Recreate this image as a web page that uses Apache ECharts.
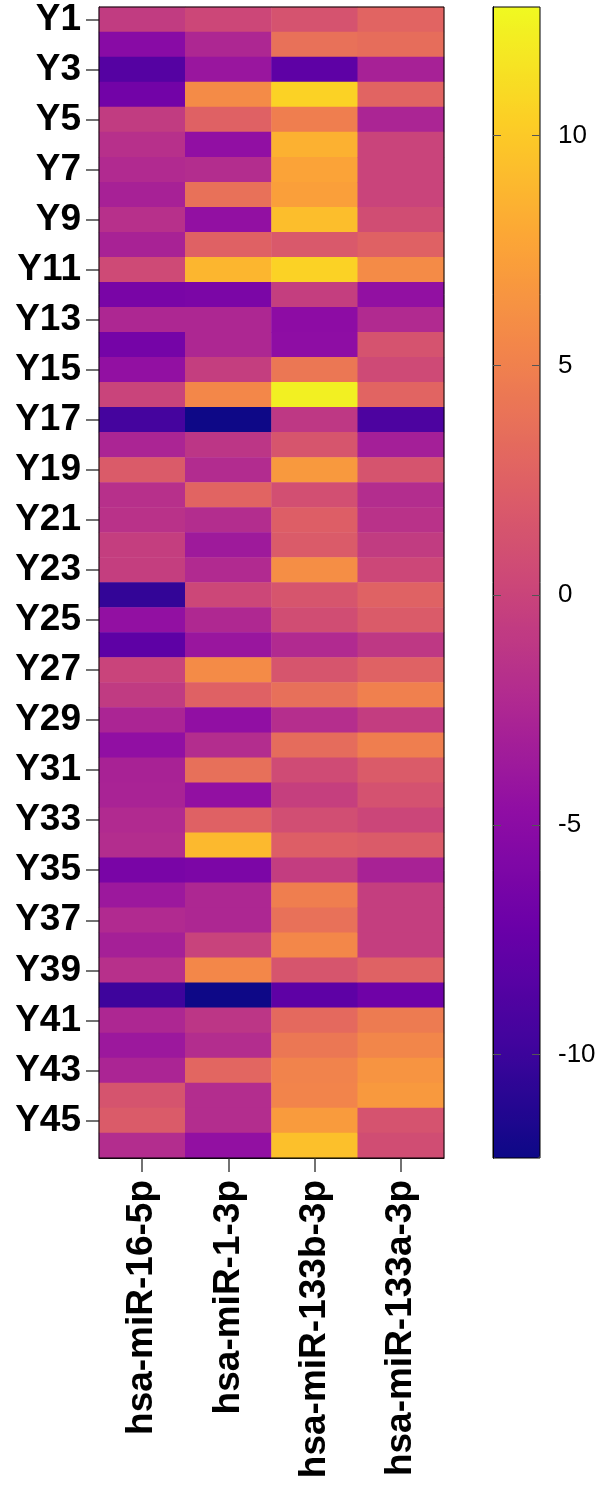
<!DOCTYPE html>
<html>
<head>
<meta charset="utf-8">
<script src="https://cdn.jsdelivr.net/npm/echarts@6/dist/echarts.min.js"></script>
<style>
html,body{margin:0;padding:0;background:#fff;}
#chart{width:599px;height:1497px;}
</style>
</head>
<body>
<div id="chart"></div>
<script>
const rowLabels = ['Y1','Y2','Y3','Y4','Y5','Y6','Y7','Y8','Y9','Y10','Y11','Y12','Y13','Y14','Y15','Y16','Y17','Y18','Y19','Y20','Y21','Y22','Y23','Y24','Y25','Y26','Y27','Y28','Y29','Y30','Y31','Y32','Y33','Y34','Y35','Y36','Y37','Y38','Y39','Y40','Y41','Y42','Y43','Y44','Y45','Y46'];
const colLabels = ['hsa-miR-16-5p','hsa-miR-1-3p','hsa-miR-133b-3p','hsa-miR-133a-3p'];

const mir16_5p = [-0.7,-5.2,-8.5,-6.7,-0.7,-1.7,-2.2,-3.0,-1.7,-2.9,0.5,-6.2,-2.5,-6.5,-4.5,0.0,-9.5,-2.7,2.0,-1.7,-1.5,-0.5,-0.5,-10.4,-4.5,-8.0,0.0,-0.8,-2.7,-4.6,-2.9,-2.8,-2.2,-2.0,-6.2,-3.8,-2.2,-3.1,-1.7,-9.9,-2.5,-3.8,-2.7,1.4,2.0,-2.0];
const mir1_3p = [0.3,-2.5,-4.0,5.8,2.5,-4.6,-2.0,3.8,-4.5,2.5,8.8,-6.1,-2.5,-2.5,-0.5,5.5,-12.2,-1.2,-2.1,2.8,-2.0,-3.6,-2.2,0.3,-2.4,-4.0,5.8,2.5,-4.6,-2.0,3.7,-4.5,2.5,9.0,-6.0,-2.5,-2.5,-0.1,5.5,-12.2,-1.2,-2.0,2.9,-2.0,-2.0,-4.5];
const mir133b_3p = [1.3,3.8,-8.0,10.5,4.8,8.5,7.6,7.3,9.3,1.8,10.5,-0.5,-4.9,-4.8,4.3,12.3,-1.0,1.5,6.8,1.0,2.3,2.0,6.0,1.5,0.8,-2.2,1.5,3.7,-1.9,3.4,0.6,-0.4,0.9,2.3,-0.6,4.8,3.8,5.5,1.5,-8.0,3.2,4.3,5.2,5.3,7.0,9.4];
const mir133a_3p = [2.8,3.5,-3.0,2.8,-2.7,0.0,0.0,0.0,0.8,2.5,5.8,-4.5,-2.2,1.3,0.5,2.8,-9.0,-3.2,1.4,-2.0,-1.5,-0.7,0.3,2.6,2.0,-1.0,2.6,5.0,-0.6,4.8,2.0,1.2,0.2,2.0,-2.9,-0.5,-0.5,-0.5,2.6,-6.9,4.6,5.4,6.5,6.8,1.3,0.8];

const colorbarTicks = [-10,-5,0,5,10];
const scaleMin = -12.25, scaleMax = 12.8;

const plasma = ['#0d0887','#41049d','#6a00a8','#8f0da4','#b12a90','#cc4778','#e16462','#f2844b','#fca636','#fcce25','#f0f921'];

const columns = [mir16_5p, mir1_3p, mir133b_3p, mir133a_3p];
const heatData = [];
columns.forEach((col, ci) => col.forEach((v, ri) => heatData.push([ci, ri, v])));

const FONT = "'Liberation Sans', Arial, sans-serif";

function cbAxis(position, offset, showLine, showTicks, showLabels) {
  return {
    type: 'value', gridIndex: 1, min: scaleMin, max: scaleMax, position: position, offset: offset, z: 20,
    axisLine: {show: showLine, lineStyle: {color: '#000', width: 1}},
    axisTick: {show: showTicks, length: 8, customValues: colorbarTicks, lineStyle: {color: '#555', width: 1}},
    axisLabel: {show: showLabels, customValues: colorbarTicks, margin: 18, color: '#000', fontSize: 26, fontFamily: FONT},
    splitLine: {show: false}
  };
}

const chart = echarts.init(document.getElementById('chart'), null, {renderer:'canvas'});
chart.setOption({
  animation: false,
  backgroundColor: '#fff',
  grid: [
    {left: 99, top: 7, width: 345, height: 1151, show: true, borderColor: '#000', borderWidth: 1, backgroundColor: 'transparent', z: 5},
    {left: 493, top: 7, width: 47, height: 1151, show: true, borderColor: '#000', borderWidth: 1, backgroundColor: 'transparent', z: 6}
  ],
  xAxis: [
    {
      type: 'category', data: colLabels, gridIndex: 0, position: 'bottom',
      axisLine: {show: true, lineStyle: {color: '#000', width: 1}},
      axisTick: {show: true, alignWithLabel: true, length: 14, lineStyle: {color: '#444', width: 1.5}},
      axisLabel: {rotate: 90, margin: 22, color: '#000', fontSize: 37, fontWeight: 'bold', fontFamily: FONT},
      splitLine: {show: false}
    },
    {
      type: 'value', gridIndex: 1, show: false
    }
  ],
  yAxis: [
    {
      type: 'category', data: rowLabels, gridIndex: 0, inverse: true,
      axisLine: {show: true, lineStyle: {color: '#000', width: 1}},
      axisTick: {show: true, alignWithLabel: true, interval: 1, length: 13, lineStyle: {color: '#444', width: 1.5}},
      axisLabel: {interval: 1, margin: 18, color: '#000', fontSize: 37, fontWeight: 'bold', fontFamily: FONT},
      splitLine: {show: false}
    },
    cbAxis('right', 0, true, false, true),
    cbAxis('left', 0, true, false, false),
    cbAxis('left', -8, false, true, false),
    cbAxis('right', -8, false, true, false)
  ],
  visualMap: {
    type: 'continuous', min: scaleMin, max: scaleMax, seriesIndex: 0, z: 1,
    calculable: false, orient: 'vertical', left: 493, top: 7, padding: 0,
    itemWidth: 47, itemHeight: 1151, text: null, showLabel: false,
    inRange: {color: plasma}
  },
  series: [{
    type: 'heatmap', xAxisIndex: 0, yAxisIndex: 0, data: heatData,
    itemStyle: {borderWidth: 0},
    emphasis: {disabled: true}
  }]
});
</script>
</body>
</html>
